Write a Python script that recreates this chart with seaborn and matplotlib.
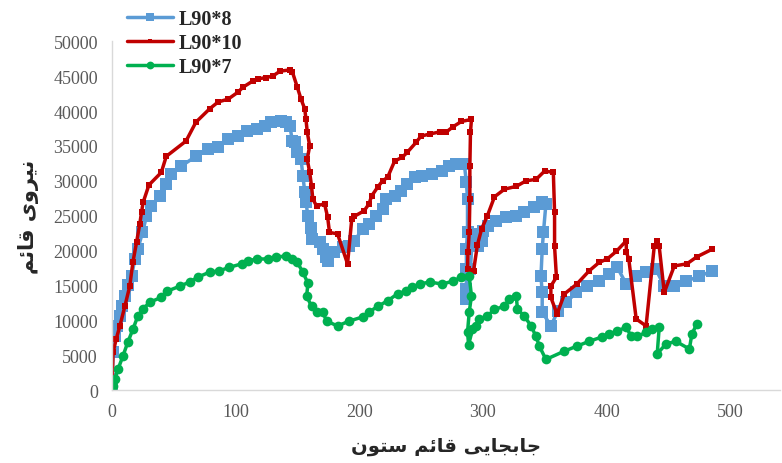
import seaborn as sns
import matplotlib.pyplot as plt
import pandas as pd

# L90*8 (blue)
x_l8 = [0, 0.5, 1, 2.4, 4, 6.5, 8.5, 10.5, 13, 16, 18.6, 21, 24.8, 28, 32, 39, 44, 48, 56, 68,
        77.7, 86, 94, 102, 109, 117, 123.6, 129, 137, 141, 144, 146, 148, 150, 153, 154.5, 156,
        157, 158.6, 161, 162, 168, 170.6, 173.4, 174.5, 180, 186.6, 192, 196, 203, 208, 214,
        219, 222, 228.6, 234, 239, 245, 251, 259, 266.6, 273, 278.7, 285, 286.7, 287.6, 287.6,
        286.7, 286.7, 286.7, 286.7, 290, 291, 293, 296, 299, 300, 304, 311, 319, 327, 333.6,
        341.7, 348, 351, 349, 348, 347, 348, 348, 355, 360.6, 367.5, 375.6, 384.5, 394, 402,
        408.7, 416, 424, 432, 440, 446.7, 454.8, 464, 475, 485.5]
y_l8 = [0, 1600, 5400, 7700, 9200, 10600, 12000, 13500, 15000, 16300, 18800, 20200, 22600, 24900,
        26400, 27800, 29500, 31000, 32100, 33500, 34500, 34800, 36000, 36400, 37100, 37400, 37800,
        38400, 38500, 38400, 37800, 35700, 35500, 34100, 33100, 30700, 28400, 26900, 24900, 23300,
        21600, 21200, 20200, 19100, 18500, 19800, 20500, 20600, 21400, 23100, 23800, 24900, 25900,
        27400, 27800, 28500, 29500, 30500, 30700, 31000, 31400, 32100, 32400, 32400, 29800, 27400,
        22600, 20200, 17300, 14500, 13000, 17300, 20600, 22400, 20600, 21400, 22800, 23500, 24200,
        24800, 24900, 25500, 26200, 26900, 26700, 22600, 20200, 16300, 14000, 11200, 9200, 11300,
        12600, 14000, 14900, 15600, 16600, 17600, 15200, 16300, 16900, 17300, 14900, 14900, 15600,
        16300, 17100]

# L90*10 (red)
x_l10 = [0, 1, 3.5, 6.5, 10.5, 14.5, 17, 20, 22.6, 24, 25.3, 30, 40, 44, 60, 68, 79, 86, 94, 102,
         106, 114, 118, 125, 130, 136, 144, 146, 150, 153, 156, 157, 158, 160, 158, 160, 161.5,
         162.5, 165.5, 172, 174.5, 176, 182.5, 190.6, 194, 196, 204, 208, 210, 215, 219, 223,
         228.6, 235, 239, 246, 250, 257, 265, 270.6, 275.5, 282.7, 290.8, 290, 289.5, 289.5, 289,
         288, 287.6, 292.5, 295.6, 299, 303.7, 309.4, 317.5, 327, 335, 343, 350, 357, 358, 358,
         359.5, 355, 355, 360, 366, 376, 386, 394, 400.6, 408, 416, 416, 418, 424, 432, 438.6,
         441, 442.6, 446.7, 454.8, 465, 473, 485.5]
y_l10 = [0, 5400, 7300, 9200, 12000, 14900, 18300, 21200, 23800, 25500, 26900, 29400, 31200, 33500,
         35700, 38400, 40300, 41300, 41700, 42700, 43400, 44300, 44600, 44800, 45000, 45700, 45900,
         45600, 43400, 41700, 40300, 38800, 37000, 35000, 33100, 31200, 29200, 27400, 26400, 26700,
         24800, 22600, 22400, 18100, 24500, 24900, 25700, 26700, 27800, 29100, 30000, 30500, 32800,
         33400, 34100, 35500, 36400, 36700, 37000, 37000, 37700, 38500, 38800, 37000, 32100, 27400,
         22600, 19800, 17300, 17100, 20800, 23100, 25000, 27700, 28800, 29200, 30000, 30200, 31400,
         31200, 25500, 20600, 16200, 14900, 13300, 10900, 13800, 15200, 17100, 18300, 18800, 19900,
         21400, 19800, 18800, 10200, 9200, 20600, 21400, 20600, 14000, 17800, 18100, 19100, 20200]

# L90*7 (green)
x_l7 = [0, 1, 2.4, 5, 9, 13, 17, 21, 25, 30.7, 40, 45, 55, 63, 69.5, 79, 87, 95, 105, 110, 117,
        126, 133, 141, 146, 150, 154.5, 158.6, 157.5, 161.5, 165.5, 170.6, 173.6, 182.5, 192, 203,
        208, 215, 223, 231, 238, 243, 249, 257, 267, 275.5, 282.7, 289, 290.8, 289, 287.6, 288.5,
        291.6, 294.8, 297, 303.7, 309.4, 317.5, 321.5, 327, 328, 333.6, 339, 343, 345.7, 351, 366,
        376, 386, 396, 402, 408.7, 416, 420, 425, 432, 437, 442.6, 441, 448, 456, 467, 469, 473]
y_l7 = [0, 600, 1600, 3000, 4900, 6900, 8700, 10600, 11600, 12600, 13300, 14200, 14900, 15500,
        16200, 16900, 17100, 17600, 18100, 18500, 18800, 18800, 19100, 19200, 18800, 18300, 16900,
        15300, 13500, 12000, 11200, 11200, 9900, 9200, 9900, 10500, 11200, 12000, 12800, 13800,
        14200, 14800, 15200, 15500, 15200, 15600, 16200, 16300, 13500, 11200, 8300, 6500, 8700,
        9200, 10200, 10600, 11600, 12000, 13000, 13500, 11600, 10600, 9200, 7700, 6300, 4400, 5600,
        6300, 7000, 7600, 8000, 8500, 9000, 7700, 7700, 8300, 8700, 9000, 5200, 6600, 7000, 5900,
        8000, 9500]

x_ticks = [0, 100, 200, 300, 400, 500]
y_ticks = list(range(0, 50001, 5000))

# simple arabic/persian shaping (matplotlib draws glyphs unjoined, left to right)
FORMS = {  # isolated, final, initial, medial
    'ا': (0xFE8D, 0xFE8E, None, None),
    'ب': (0xFE8F, 0xFE90, 0xFE91, 0xFE92),
    'ت': (0xFE95, 0xFE96, 0xFE97, 0xFE98),
    'ج': (0xFE9D, 0xFE9E, 0xFE9F, 0xFEA0),
    'ر': (0xFEAD, 0xFEAE, None, None),
    'س': (0xFEB1, 0xFEB2, 0xFEB3, 0xFEB4),
    'ق': (0xFED5, 0xFED6, 0xFED7, 0xFED8),
    'م': (0xFEE1, 0xFEE2, 0xFEE3, 0xFEE4),
    'ن': (0xFEE5, 0xFEE6, 0xFEE7, 0xFEE8),
    'و': (0xFEED, 0xFEEE, None, None),
    'ئ': (0xFE89, 0xFE8A, 0xFE8B, 0xFE8C),
    'ی': (0xFBFC, 0xFBFD, 0xFBFE, 0xFBFF),
}


def shape(text):
    out = []
    for i, ch in enumerate(text):
        if ch not in FORMS:
            out.append(ch)
            continue
        prev = text[i - 1] if i > 0 else ''
        nxt = text[i + 1] if i + 1 < len(text) else ''
        jp = prev in FORMS and FORMS[prev][2] is not None
        jn = nxt in FORMS and FORMS[ch][2] is not None
        iso, fin, ini, med = FORMS[ch]
        if jp and jn:
            c = med
        elif jp:
            c = fin
        elif jn:
            c = ini
        else:
            c = iso
        out.append(chr(c))
    return ''.join(reversed(out))


sns.set_style('white')

fig, ax = plt.subplots(figsize=(7.82, 4.64), dpi=100)
fig.subplots_adjust(left=0.143, right=0.997, bottom=0.157, top=0.909)

series = [
    ('L90*8', x_l8, y_l8, '#5B9BD5', 's', 8),
    ('L90*10', x_l10, y_l10, '#C00000', 's', 4),
    ('L90*7', x_l7, y_l7, '#00B050', 'o', 7),
]
for name, xs, ys, col, mk, ms in series:
    df = pd.DataFrame({'x': xs, 'y': ys})
    sns.lineplot(data=df, x='x', y='y', sort=False, estimator=None, ax=ax, color=col,
                 linewidth=2.5, marker=mk, markersize=ms, markeredgewidth=0, label=name)

ax.set_xlim(0, 540)
ax.set_ylim(0, 50000)
ax.set_xticks(x_ticks)
ax.set_yticks(y_ticks)
for lab in ax.get_xticklabels() + ax.get_yticklabels():
    lab.set_family('Liberation Serif')
    lab.set_fontsize(13)
    lab.set_color('#595959')
ax.tick_params(axis='both', length=0)
ax.tick_params(axis='x', pad=9)
ax.tick_params(axis='y', pad=10)

for s in ['top', 'right']:
    ax.spines[s].set_visible(False)
for s in ['left', 'bottom']:
    ax.spines[s].set_color('#D9D9D9')
    ax.spines[s].set_linewidth(1)

ax.set_xlabel(shape('جابجایی قائم ستون'), family=['DejaVu Sans'], fontsize=14,
              fontweight='bold', labelpad=12)
ax.set_ylabel(shape('نیروی قائم'), family=['DejaVu Sans'], fontsize=15,
              fontweight='bold', labelpad=10)

ax.get_legend().remove()
handles, labels = ax.get_legend_handles_labels()
fig.legend(handles, labels, loc='upper left', bbox_to_anchor=(127 / 782, 1 - 10 / 464),
           frameon=False, prop={'family': 'Liberation Serif', 'weight': 'bold', 'size': 14.5},
           handlelength=2.3, handletextpad=0.25, labelspacing=0.2, borderaxespad=0,
           borderpad=0, markerscale=0.8)

plt.savefig('out.png', dpi=100)
